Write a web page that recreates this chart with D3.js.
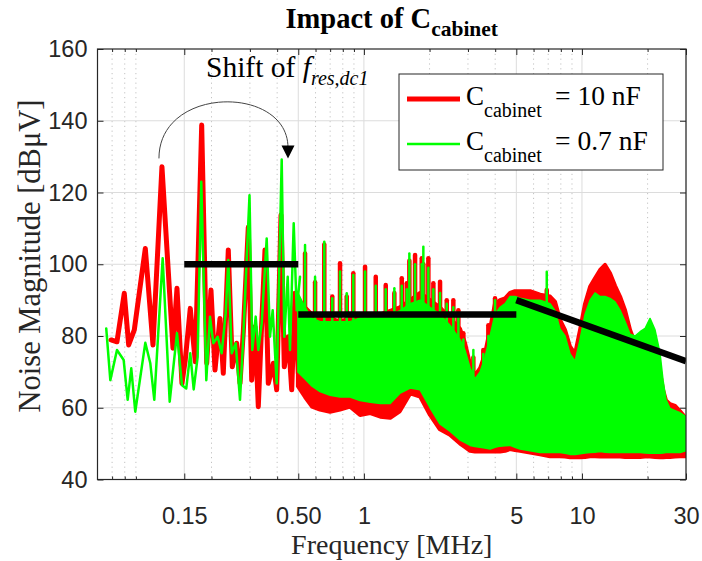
<!DOCTYPE html>
<html>
<head>
<meta charset="utf-8">
<script src="https://cdn.jsdelivr.net/npm/d3@7"></script>
<style>
  body { margin: 0; background: #fff; }
  svg { display: block; }
</style>
</head>
<body>
<svg id="chart" width="702" height="561"></svg>
<script>
// ---------- measured spectra (frequency in MHz, level in dBµV) ----------

// Low-frequency part, C_cabinet = 10 nF
const redTraceFreq = [0.0692,0.0737,0.0796,0.0834,0.0885,0.0994,0.1078,0.1185,0.1331,0.1389,
  0.1464,0.1516,0.1598,0.1685,0.1803,0.1901,0.1989,0.2075,0.2187,0.2265,
  0.2388,0.2491,0.2609,0.2702,0.2798,0.2949,0.3057,0.3166,0.3278,0.3398,
  0.3518,0.3643,0.3840,0.3981,0.4166,0.4314,0.4500,0.4665,0.4830,0.5002];
const redTraceDb = [78.9,78.4,91.9,77.5,81.7,104.4,77.5,127.2,76.6,93.3,
  66.8,73.3,87.7,72.8,138.8,72.4,92.8,70.5,84.9,69.6,
  104,71.4,78,66.8,81.2,110.3,67.7,82.6,60.3,83.5,
  104,66.8,72.4,65,113.7,71.4,79.8,65,91.9,69.6];

// Low-frequency part, C_cabinet = 0.7 nF
const greenTraceFreq = [0.0658,0.0687,0.0737,0.0791,0.0825,0.0857,0.0894,0.0994,0.1048,0.1093,
  0.1194,0.1286,0.1389,0.1464,0.1532,0.1598,0.1657,0.1728,0.1795,0.1893,
  0.1968,0.2038,0.2135,0.2227,0.2323,0.2388,0.2475,0.2582,0.2702,0.2798,
  0.2987,0.3077,0.3189,0.3278,0.3398,0.3582,0.3709,0.3816,0.3981,0.4197,
  0.4314,0.4472,0.4581,0.4764,0.4917,0.5092];
const greenTraceDb = [82.1,67.7,76.1,73.3,62.2,71,58.9,78.1,72.4,62.2,
  101.7,61.7,80.8,66.3,65.4,75.2,65.1,74.2,123,67.7,
  85.4,78,79.8,75.2,86.3,101.2,75.2,78,62.2,79.8,
  119.2,76.1,85.4,76.1,83.5,107.2,79.8,87.2,66.8,129.2,
  79.8,96.5,76.1,111.4,87.2,96.5];

// Dense part above 0.5 MHz: upper / lower envelope of each spectrum
const bandFreq = [0.498,0.537,0.578,0.629,0.699,0.777,0.864,0.960,1.07,1.19,
  1.32,1.46,1.63,1.81,2.01,2.23,2.48,2.76,2.91,3.07,
  3.23,3.41,3.59,3.79,3.99,4.21,4.44,4.68,4.93,5.20,
  5.78,6.42,7.14,7.53,7.93,8.36,8.82,9.30,9.80,10.33,
  10.89,11.48,12.11,12.76,13.45,14.18,14.95,15.76,16.62,17.52,
  18.47,19.47,20.52,21.63,22.81,23.54,24.30,25.35,26.72,28.18,30];
const redBandTop = [90,88,86,85,85,84,85,85,86,86,
  87,88,90,92,90,88,85,82,78,72,
  69,71,75,82,89,90,90.5,92,92.5,92.5,
  92.5,91.5,91,89.5,84.5,81.7,77,75,81.7,89,
  93.7,96.1,98.4,99.8,97.5,94,91,87.2,81.7,78,
  78,78,78,76,70,65,62,61,60.5,59,57];
const redBandBottom = [66,63,60.3,59.5,58.9,59.5,60.3,58,58.5,57.5,
  57.2,59,64,63.1,58,54,52.5,50,49,48,
  47.8,47.8,47.8,47.8,47.8,47.8,48,48.5,48.2,48,
  47.5,47,46.5,46.5,46.5,46.4,46.2,46.2,46.2,46.3,
  46.5,46.5,46.4,46.4,46.4,46.4,46.4,46.3,46.3,46.3,
  46.3,46.4,46.4,46.3,46.2,46.2,46.3,46.3,46.4,46.5,46.5];
const greenBandTop = [92,88,85,84,84,84,84,85,85,86,
  86,87,89,90,88,86,83,79,76,71,
  68,70,74,80,86,88,89,91,91,90.5,
  90,90,89,87,82,80,75,73,79,86,
  90,92,91,91,90.5,89.5,87.2,84,80.5,80,
  81.2,82.1,84.9,81.7,75.2,67.7,62.2,59.8,59.2,58.6,57.5];
const greenBandBottom = [70,68,66,64.5,63.5,63,63,62,61.5,61.2,
  61.2,64,65.5,65,60,55.5,53.5,51,50.3,49.5,
  49.2,49,48.8,48.5,49,49.3,49.4,49.5,49,48.5,
  48,47.5,47.5,47.5,47.5,47.3,47,47,47.2,47.4,
  47.5,47.6,47.8,47.6,47.5,47.5,47.5,47.5,47.5,47.5,
  47.5,47.4,47.3,47.3,47.3,47.4,47.5,47.5,47.5,47.5,48];

// Harmonic peaks standing out of the dense part
const spikeFreq = [0.537,0.597,0.658,0.716,0.777,0.834,0.894,1.012,1.133,1.259,
  1.379,1.491,1.572,1.616,1.716,1.842,1.873,1.975,2.082,2.234,
  2.398,2.571,2.711,2.858,3.176,3.529,3.721,3.993,6.895];
const redSpikeDb = [103,95,105.5,91,100.3,91,97.5,99.3,96.5,94.2,
  92,96.1,94.7,101,102.6,101.7,100,101.7,94.7,95.1,
  90,90,87.2,80.8,74,76.1,83,90.5,92.8];
const greenSpikeDb = [105.4,96.5,106.3,90.5,98,91.9,97,98,94,93,
  93.3,94,93,103,100,100,104.9,99,93,92,
  89,88,85,79,76.1,75,80,90,97.9];

// Limit line segments
const limitFreq = [[0.15, 0.5], [0.5, 5], [5, 30]];
const limitDb = [[100, 100], [86, 86], [90, 73]];

// Axis ticks
const xMajorTicks = [0.15, 0.5, 1, 5, 10, 30];
const xTickLabels = ["0.15", "0.50", "1", "5", "10", "30"];
const xMinorTicks = [0.07, 0.08, 0.09, 0.2, 0.3, 0.4, 0.6, 0.7, 0.8, 0.9, 2, 3, 4, 6, 7, 8, 9, 20];
const yTicks = [40, 60, 80, 100, 120, 140, 160];

const seriesNames = ["10 nF", "0.7 nF"];
const seriesColors = ["#ff0000", "#00ff00"];

// ---------- layout ----------
const L = 97.5, R = 686, T = 49, B = 479.5;
const svg = d3.select("#chart");
const x = d3.scaleLog().domain([0.06, 30]).range([L, R]);
const y = d3.scaleLinear().domain([40, 160]).range([B, T]);
const axisColor = "#262626";
const sans = "'Liberation Sans', Arial, sans-serif";
const serif = "'Liberation Serif', 'Times New Roman', serif";

// grid
const grid = svg.append("g");
grid.selectAll("line.minor").data(xMinorTicks).join("line")
  .attr("x1", d => x(d)).attr("x2", d => x(d)).attr("y1", T).attr("y2", B)
  .attr("stroke", "#c2c2c2").attr("stroke-width", 1).attr("stroke-dasharray", "1.2,3.6");
grid.selectAll("line.xmaj").data(xMajorTicks).join("line")
  .attr("x1", d => x(d)).attr("x2", d => x(d)).attr("y1", T).attr("y2", B)
  .attr("stroke", "#dcdcdc").attr("stroke-width", 1);
grid.selectAll("line.ymaj").data(yTicks.slice(1, -1)).join("line")
  .attr("x1", L).attr("x2", R).attr("y1", d => y(d)).attr("y2", d => y(d))
  .attr("stroke", "#dcdcdc").attr("stroke-width", 1);

// data
svg.append("clipPath").attr("id", "plotClip").append("rect")
  .attr("x", L).attr("y", T).attr("width", R - L).attr("height", B - T);
const plot = svg.append("g").attr("clip-path", "url(#plotClip)");

const traceLine = d3.line().x(d => x(d[0])).y(d => y(d[1]));
const band = d3.area().x(d => x(d[0])).y0(d => y(d[1])).y1(d => y(d[2]));

function drawSeries(traceF, traceV, bottom, top, peaks, color, width, bandStroke, spikeWidth) {
  const g = plot.append("g");
  g.append("path").datum(d3.zip(traceF, traceV)).attr("d", traceLine)
    .attr("fill", "none").attr("stroke", color).attr("stroke-width", width)
    .attr("stroke-linejoin", "round").attr("stroke-linecap", "round");
  g.append("path").datum(d3.zip(bandFreq, bottom, top)).attr("d", band)
    .attr("fill", color).attr("stroke", color).attr("stroke-width", bandStroke)
    .attr("stroke-linejoin", "round");
  const topAt = d3.scaleLog().domain(bandFreq).range(top);
  g.selectAll("line").data(d3.zip(spikeFreq, peaks)).join("line")
    .attr("x1", d => x(d[0])).attr("x2", d => x(d[0]))
    .attr("y1", d => y(Math.min(topAt(d[0]), d[1]) - 3)).attr("y2", d => y(d[1]))
    .attr("stroke", color).attr("stroke-width", spikeWidth).attr("stroke-linecap", "round");
}
drawSeries(redTraceFreq, redTraceDb, redBandBottom, redBandTop, redSpikeDb, seriesColors[0], 5, 4, 4.5);
drawSeries(greenTraceFreq, greenTraceDb, greenBandBottom, greenBandTop, greenSpikeDb, seriesColors[1], 2.5, 1.5, 2.5);

// limit lines
plot.append("g").selectAll("line").data(d3.zip(limitFreq, limitDb)).join("line")
  .attr("x1", d => x(d[0][0])).attr("x2", d => x(d[0][1]))
  .attr("y1", d => y(d[1][0])).attr("y2", d => y(d[1][1]))
  .attr("stroke", "#000").attr("stroke-width", 6.5);

// axes (ticks point inward)
const xAxis = svg.append("g").attr("transform", `translate(0,${B})`)
  .call(d3.axisBottom(x).tickValues(xMajorTicks).tickSize(-6).tickPadding(28)
    .tickFormat((d, i) => xTickLabels[i]));
const xAxisTop = svg.append("g").attr("transform", `translate(0,${T})`)
  .call(d3.axisTop(x).tickValues(xMajorTicks).tickSize(-6).tickFormat(""));
const xMinB = svg.append("g").attr("transform", `translate(0,${B})`)
  .call(d3.axisBottom(x).tickValues(xMinorTicks).tickSize(-3).tickFormat(""));
const xMinT = svg.append("g").attr("transform", `translate(0,${T})`)
  .call(d3.axisTop(x).tickValues(xMinorTicks).tickSize(-3).tickFormat(""));
const yAxis = svg.append("g").attr("transform", `translate(${L},0)`)
  .call(d3.axisLeft(y).tickValues(yTicks).tickSize(-6).tickPadding(10));
const yAxisR = svg.append("g").attr("transform", `translate(${R},0)`)
  .call(d3.axisRight(y).tickValues(yTicks).tickSize(-6).tickFormat(""));

[xAxis, xAxisTop, xMinB, xMinT, yAxis, yAxisR].forEach(a => {
  a.select(".domain").remove();
  a.selectAll(".tick line").attr("stroke", axisColor).attr("stroke-width", 1);
  a.selectAll("text").attr("font-family", sans).attr("font-size", 23.5).attr("fill", axisColor);
});

svg.append("rect").attr("x", L).attr("y", T).attr("width", R - L).attr("height", B - T)
  .attr("fill", "none").attr("stroke", axisColor).attr("stroke-width", 1.2);

// axis titles
svg.append("text").attr("x", (L + R) / 2).attr("y", 554).attr("text-anchor", "middle")
  .attr("font-family", serif).attr("font-size", 28).attr("fill", axisColor)
  .text("Frequency [MHz]");
svg.append("text").attr("transform", `translate(40,256) rotate(-90)`)
  .attr("text-anchor", "middle").attr("font-family", serif).attr("font-size", 30.5)
  .attr("fill", axisColor).text("Noise Magnitude [dBμV]");

// title
const title = svg.append("text").attr("x", (L + R) / 2).attr("y", 28).attr("text-anchor", "middle")
  .attr("font-family", serif).attr("font-weight", "bold").attr("font-size", 28.5).attr("fill", "#000");
title.append("tspan").text("Impact of C");
title.append("tspan").attr("font-size", 21.5).attr("dy", 8).text("cabinet");

// annotation: resonance shift arrow
const arcA = [x(0.1148), y(129.5)];
const arcB = [x(0.4485), y(132.5)];
const arcTop = y(150);
svg.append("path")
  .attr("d", `M${arcA[0]},${arcA[1]} C${arcA[0]},${arcTop} ${arcB[0]},${arcTop} ${arcB[0]},${arcB[1]}`)
  .attr("fill", "none").attr("stroke", "#444").attr("stroke-width", 1);
const tip = y(129.5);
svg.append("path")
  .attr("d", `M${arcB[0] - 6.5},${tip - 13} L${arcB[0] + 6.5},${tip - 13} L${arcB[0]},${tip} Z`)
  .attr("fill", "#000");
const shift = svg.append("text").attr("x", 206).attr("y", 77)
  .attr("font-family", serif).attr("font-size", 29.5).attr("fill", "#000");
shift.append("tspan").text("Shift of ");
shift.append("tspan").attr("font-style", "italic").text("f");
shift.append("tspan").attr("font-style", "italic").attr("font-size", 20).attr("dy", 8).text("res,dc1");

// legend
const lg = svg.append("g");
lg.append("rect").attr("x", 399).attr("y", 74).attr("width", 264).attr("height", 96)
  .attr("fill", "#fff").attr("stroke", axisColor).attr("stroke-width", 1);
const rowY = [105, 150];
seriesNames.forEach((name, i) => {
  lg.append("line").attr("x1", 407).attr("x2", 460)
    .attr("y1", rowY[i] - 6).attr("y2", rowY[i] - 6)
    .attr("stroke", seriesColors[i]).attr("stroke-width", i === 0 ? 5 : 2.5);
  const t = lg.append("text").attr("x", 466).attr("y", rowY[i])
    .attr("font-family", serif).attr("font-size", 27).attr("fill", "#000");
  t.append("tspan").text("C");
  t.append("tspan").attr("font-size", 20).attr("dy", 12).text("cabinet");
  lg.append("text").attr("x", 555).attr("y", rowY[i])
    .attr("font-family", serif).attr("font-size", 27.5).attr("fill", "#000")
    .text("= " + name);
});
</script>
</body>
</html>
